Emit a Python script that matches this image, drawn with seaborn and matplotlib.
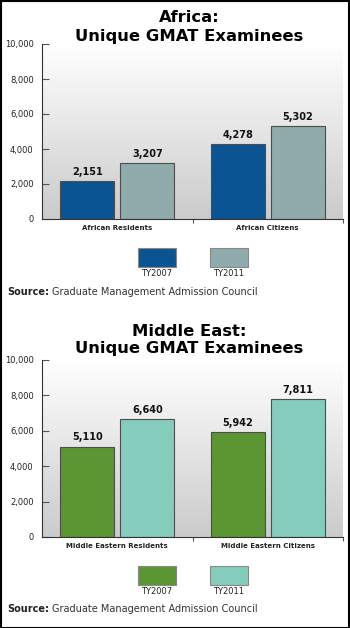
import numpy as np
import pandas as pd
import matplotlib
matplotlib.use("Agg")
import matplotlib.pyplot as plt
import seaborn as sns
from matplotlib.patches import Rectangle
from matplotlib.colors import LinearSegmentedColormap

# ---- data ----
years = ["TY2007", "TY2011"]
africa_categories = ["African Residents", "African Citizens"]
africa_ty2007 = [2151, 4278]
africa_ty2011 = [3207, 5302]
me_categories = ["Middle Eastern Residents", "Middle Eastern Citizens"]
me_ty2007 = [5110, 5942]
me_ty2011 = [6640, 7811]
y_ticks = [0, 2000, 4000, 6000, 8000, 10000]
source_label = "Source:"
source_text = "Graduate Management Admission Council"

africa_colors = ["#0b5494", "#8fabab"]
me_colors = ["#5b9633", "#84cdbd"]

sns.set_style("white")
plt.rcParams["font.family"] = ["DejaVu Sans"]

W, H = 350, 628
fig = plt.figure(figsize=(W / 100, H / 100), dpi=100)


def px_axes(left, top, right, bottom):
    return fig.add_axes([left / W, 1 - bottom / H, (right - left) / W, (bottom - top) / H])


def make_df(cats, a, b):
    return pd.DataFrame({
        "category": cats * 2,
        "year": [years[0]] * len(cats) + [years[1]] * len(cats),
        "value": list(a) + list(b),
    })


def draw_panel(ax, df, cats, colors):
    grad = np.linspace(0, 1, 256).reshape(-1, 1)
    cmap = LinearSegmentedColormap.from_list("g", ["#cbcbcb", "#ffffff"])
    ax.imshow(grad, extent=(-0.5, 1.5, 0, 10000), origin="lower", aspect="auto",
              cmap=cmap, zorder=0)
    sns.barplot(data=df, x="category", y="value", hue="year", order=cats,
                hue_order=years, palette=colors, saturation=1, width=0.8, gap=0.1,
                edgecolor="#4d4d4d", linewidth=0.8, legend=False, ax=ax, zorder=2)
    for cont in ax.containers:
        ax.bar_label(cont, labels=[f"{v:,.0f}" for v in cont.datavalues],
                     padding=3, fontsize=7, fontweight="bold", color="#111111")
    ax.set_xlim(-0.5, 1.5)
    ax.set_ylim(0, 10000)
    ax.set_yticks(y_ticks)
    ax.set_yticklabels([f"{t:,}" for t in y_ticks], fontsize=6, color="#222222")
    ax.tick_params(axis="y", direction="in", length=5, width=0.8, color="#555555",
                   pad=6, left=True)
    ax.set_xticks(range(len(cats)))
    ax.set_xticklabels(cats, fontsize=5, fontweight="bold", color="#222222")
    ax.tick_params(axis="x", length=0, pad=4)
    ax.set_xticks([0.5, 1.5], minor=True)
    ax.tick_params(axis="x", which="minor", direction="out", length=3,
                   width=0.8, color="#555555", bottom=True)
    ax.set_xlabel("")
    ax.set_ylabel("")
    for s in ["top", "right"]:
        ax.spines[s].set_visible(False)
    for s in ["left", "bottom"]:
        ax.spines[s].set_color("#333333")
        ax.spines[s].set_linewidth(0.8)


def draw_legend(colors, top, label_y):
    boxes = [(138, 176), (210, 248)]
    for (x0, x1), c, lab in zip(boxes, colors, years):
        fig.patches.append(Rectangle((x0 / W, 1 - (top + 19) / H), (x1 - x0) / W, 19 / H,
                                     transform=fig.transFigure, facecolor=c,
                                     edgecolor="#888888", linewidth=0.8))
        fig.text((x0 + x1) / 2 / W, 1 - label_y / H, lab, ha="center", va="center",
                 fontsize=6, color="#222222")


def draw_source(y):
    t = fig.text(7 / W, 1 - y / H, source_label, ha="left", va="center",
                 fontsize=7, fontweight="bold", color="#222222")
    fig.canvas.draw()
    bb = t.get_window_extent()
    fig.text((bb.x1 + 3) / W, 1 - y / H, source_text, ha="left", va="center",
             fontsize=7, color="#333333")


def draw_title(line1, y1, y2):
    for txt, y in [(line1, y1), ("Unique GMAT Examinees", y2)]:
        fig.text(189 / W, 1 - y / H, txt, ha="center", va="center",
                 fontsize=11.8, fontweight="bold", color="black")


# Africa panel
ax1 = px_axes(42, 44, 343, 219)
draw_panel(ax1, make_df(africa_categories, africa_ty2007, africa_ty2011),
           africa_categories, africa_colors)
draw_title("Africa:", 18, 37)
draw_legend(africa_colors, 248, 274)
draw_source(292)

# Middle East panel
ax2 = px_axes(42, 360, 343, 537)
draw_panel(ax2, make_df(me_categories, me_ty2007, me_ty2011),
           me_categories, me_colors)
draw_title("Middle East:", 331, 349)
draw_legend(me_colors, 566, 592)
draw_source(609)

# outer frame
fig.patches.append(Rectangle((0.5 / W, 0.5 / H), (W - 1.5) / W, (H - 1.5) / H,
                             transform=fig.transFigure, fill=False,
                             edgecolor="black", linewidth=1.5))

fig.savefig("out.png", dpi=100)
